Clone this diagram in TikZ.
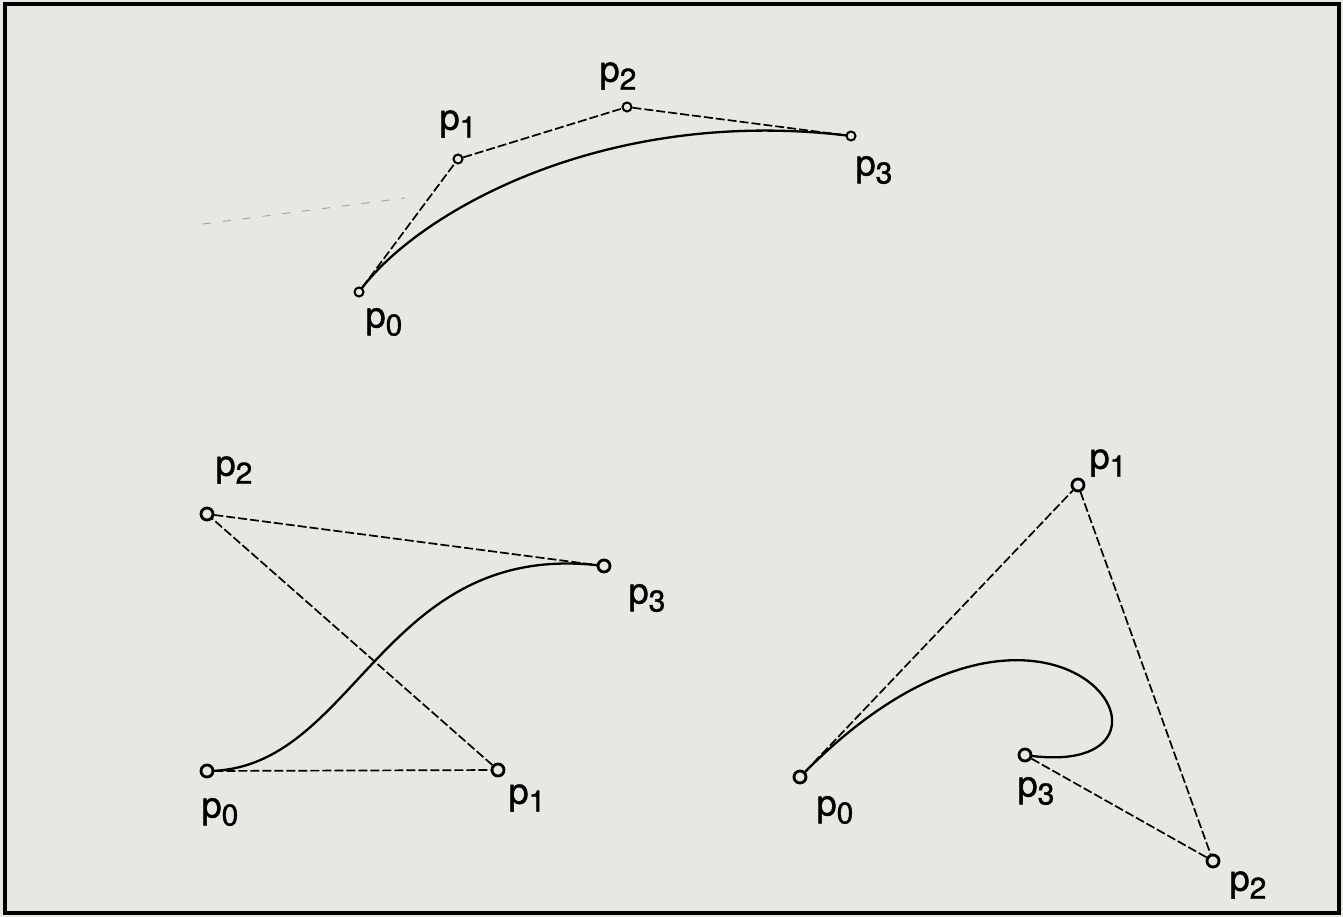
\documentclass[tikz,border=0pt]{standalone}
\usepackage{fontspec}
\setmainfont{TeX Gyre Heros}
\newfontfamily\lblfont[FakeBold=1.2]{TeX Gyre Heros}
\definecolor{bg}{RGB}{230,232,225}
\newcommand\pl[1]{p\raisebox{-8pt}{\fontsize{30}{34}\selectfont #1}}
\tikzset{
  ctrl/.style={circle, draw=black, line width=2.8pt, fill=bg, inner sep=0pt, minimum size=12pt},
  ctrls/.style={circle, draw=black, line width=2pt, fill=bg, inner sep=0pt, minimum size=9pt},
  poly/.style={line width=1.7pt, dash pattern=on 9pt off 3pt},
  bez/.style={line width=2.3pt},
  lbl/.style={inner sep=0pt, font=\lblfont\fontsize{36}{42}\selectfont},
  stray/.style={line width=1pt, draw=black!35, dash pattern=on 8pt off 12pt},
}
\begin{document}
\begin{tikzpicture}[x=1pt,y=-1pt]
\useasboundingbox (0,0) rectangle (1343,917);
\fill[bg] (0,0) rectangle (1343,917);
\draw[line width=3.5pt] (5,4) rectangle (1339,913);

% ---------- top curve ----------
\coordinate (A0) at (359,292);
\coordinate (A1) at (458,159);
\coordinate (A2) at (627,107);
\coordinate (A3) at (851,136);
\draw[bez] (A0) .. controls (415,214) and (603,105) .. (A3);
\node[ctrls] (a0) at (A0) {};
\node[ctrls] (a1) at (A1) {};
\node[ctrls] (a2) at (A2) {};
\node[ctrls] (a3) at (A3) {};
\draw[poly] (a0) -- (a1) -- (a2) -- (a3);
\node[lbl] (la0) at (384,322) {\pl{0}};
\node[lbl] (la1) at (458,124) {\pl{1}};
\node[lbl] (la2) at (618,76) {\pl{2}};
\node[lbl] (la3) at (874,170) {\pl{3}};
\coordinate (s0) at (203,224);
\coordinate (s1) at (405,198);
\draw[stray] (s0) -- (s1);

% ---------- bottom left curve ----------
\coordinate (B0) at (207,771);
\coordinate (B1) at (498,770);
\coordinate (B2) at (207,514);
\coordinate (B3) at (604,566);
\draw[bez] (B0) .. controls (357,771) and (381,537) .. (B3);
\node[ctrl] (b0) at (B0) {};
\node[ctrl] (b1) at (B1) {};
\node[ctrl] (b2) at (B2) {};
\node[ctrl] (b3) at (B3) {};
\draw[poly] (b0) -- (b1) -- (b2) -- (b3);
\node[lbl] (lb0) at (220,812) {\pl{0}};
\node[lbl] (lb1) at (527,798) {\pl{1}};
\node[lbl] (lb2) at (234,470) {\pl{2}};
\node[lbl] (lb3) at (647,598) {\pl{3}};

% ---------- bottom right curve ----------
\coordinate (C0) at (800,777);
\coordinate (C1) at (1078,485);
\coordinate (C2) at (1213,861);
\coordinate (C3) at (1025,755);
\draw[bez] (C0) .. controls (1058,512) and (1222,785) .. (C3);
\node[ctrl] (c0) at (C0) {};
\node[ctrl] (c1) at (C1) {};
\node[ctrl] (c2) at (C2) {};
\node[ctrl] (c3) at (C3) {};
\draw[poly] (c0) -- (c1) -- (c2) -- (c3);
\node[lbl] (lc0) at (835,810) {\pl{0}};
\node[lbl] (lc1) at (1108,463) {\pl{1}};
\node[lbl] (lc2) at (1248,885) {\pl{2}};
\node[lbl] (lc3) at (1036,791) {\pl{3}};
\end{tikzpicture}
\end{document}
